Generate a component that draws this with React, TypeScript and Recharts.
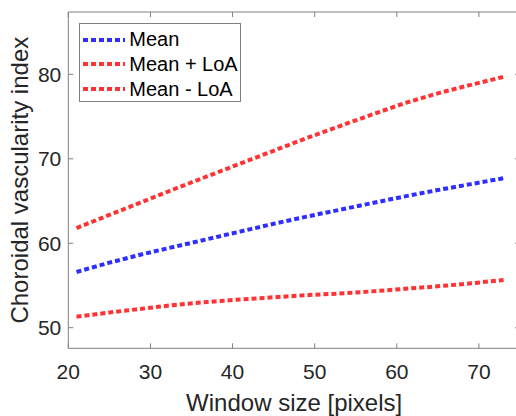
import React from 'react';
import { LineChart, Line, XAxis, YAxis, Legend } from 'recharts';

const windowSizes = [21, 25, 29, 33, 37, 41, 45, 49, 53, 57, 61, 65, 69, 73];
const meanValues = [56.6, 57.7, 58.7, 59.6, 60.5, 61.4, 62.3, 63.15, 63.95, 64.75, 65.55, 66.3, 67.0, 67.7];
const upperValues = [61.8, 63.35, 64.9, 66.45, 67.95, 69.45, 70.95, 72.45, 73.85, 75.25, 76.6, 77.75, 78.75, 79.7];
const lowerValues = [51.3, 51.8, 52.25, 52.7, 53.05, 53.35, 53.6, 53.85, 54.05, 54.3, 54.6, 54.9, 55.25, 55.65];

const xTicks = [20, 30, 40, 50, 60, 70];
const yTicks = [50, 60, 70, 80];

const data = windowSizes.map((w, i) => ({
  w,
  mean: meanValues[i],
  upper: upperValues[i],
  lower: lowerValues[i],
}));

const FONT = '"Liberation Sans", Arial, sans-serif';
const AXIS = '#808080';
const TEXT = '#262626';
const BLUE = '#2e2eff';
const RED = '#ff3333';
const DASH = '5 3';

const W = 521;
const H = 416;
const M = { top: 12, right: 1, left: 0, bottom: 0 };
const X_MARGIN = 16;
const Y_MARGIN = 7;
const TICK = 5;

// matlab style: tick marks point into the box on all four sides
const XTick = (props: any) => {
  const { x, y, payload } = props;
  const axisY = y - X_MARGIN;
  return (
    <g>
      <line x1={x} y1={axisY} x2={x} y2={axisY - TICK} stroke={AXIS} />
      <line x1={x} y1={M.top} x2={x} y2={M.top + TICK} stroke={AXIS} />
      <text x={x} y={y} dy="0.71em" textAnchor="middle" fontSize={21} fontFamily={FONT} fill={TEXT}>
        {payload.value}
      </text>
    </g>
  );
};

const YTick = (props: any) => {
  const { x, y, payload } = props;
  const axisX = x + Y_MARGIN;
  const rightX = W - M.right;
  return (
    <g>
      <line x1={axisX} y1={y} x2={axisX + TICK} y2={y} stroke={AXIS} />
      <line x1={rightX} y1={y} x2={rightX - TICK} y2={y} stroke={AXIS} />
      <text x={x} y={y} dy="0.355em" textAnchor="end" fontSize={21} fontFamily={FONT} fill={TEXT}>
        {payload.value}
      </text>
    </g>
  );
};

const LegendBox = (props: any) => {
  const items = props.payload || [];
  return (
    <div
      style={{
        boxSizing: 'border-box',
        width: 162,
        height: 79,
        border: `1px solid ${AXIS}`,
        background: '#fff',
        paddingTop: 3.5,
        fontFamily: FONT,
      }}
    >
      {items.map((it: any) => (
        <div key={it.value} style={{ display: 'flex', alignItems: 'center', height: 24.8, paddingLeft: 3 }}>
          <svg width={42} height={6}>
            <line x1={0} y1={3} x2={42} y2={3} stroke={it.color} strokeWidth={4} strokeDasharray={DASH} />
          </svg>
          <span style={{ marginLeft: 4, fontSize: 20, color: '#000', lineHeight: '24.8px' }}>{it.value}</span>
        </div>
      ))}
    </div>
  );
};

const yTitle = (props: any) => {
  const vb = props.viewBox;
  const cx = vb.x + 19.5;
  const cy = vb.y + vb.height / 2;
  return (
    <text
      x={cx}
      y={cy}
      transform={`rotate(-90 ${cx} ${cy})`}
      textAnchor="middle"
      dy="0.355em"
      fontSize={24}
      fontFamily={FONT}
      fill={TEXT}
    >
      Choroidal vascularity index
    </text>
  );
};

const xTitle = (props: any) => {
  const vb = props.viewBox;
  return (
    <text x={vb.x + vb.width / 2} y={vb.y + 62.7} textAnchor="middle" fontSize={24} fontFamily={FONT} fill={TEXT}>
      Window size [pixels]
    </text>
  );
};

export default function App() {
  return (
    <div style={{ width: 516, height: 416, overflow: 'hidden', position: 'relative' }}>
      <style>{'html, body { margin: 0; padding: 0; overflow: hidden; }'}</style>
      <LineChart width={W} height={H} data={data} margin={M}>
        <XAxis
          xAxisId="x"
          dataKey="w"
          type="number"
          domain={[20, 75]}
          ticks={xTicks}
          allowDataOverflow
          height={67.7}
          tickSize={0}
          tickMargin={X_MARGIN}
          tickLine={false}
          axisLine={{ stroke: AXIS }}
          tick={<XTick />}
          label={{ content: xTitle }}
        />
        <XAxis
          xAxisId="xt"
          orientation="top"
          dataKey="w"
          type="number"
          domain={[20, 75]}
          ticks={xTicks}
          allowDataOverflow
          mirror
          tick={false}
          tickLine={false}
          axisLine={{ stroke: AXIS }}
        />
        <YAxis
          yAxisId="y"
          type="number"
          domain={[47.56, 87.38]}
          ticks={yTicks}
          allowDataOverflow
          width={68.3}
          tickSize={0}
          tickMargin={Y_MARGIN}
          tickLine={false}
          axisLine={{ stroke: AXIS }}
          tick={<YTick />}
          label={{ content: yTitle }}
        />
        <Legend
          layout="vertical"
          align="center"
          verticalAlign="middle"
          content={<LegendBox />}
          wrapperStyle={{ left: 79.3, top: 22.7, width: 'auto', height: 'auto' }}
        />
        <Line
          xAxisId="x"
          yAxisId="y"
          type="linear"
          dataKey="mean"
          name="Mean"
          stroke={BLUE}
          strokeWidth={4}
          strokeDasharray={DASH}
          dot={false}
          isAnimationActive={false}
        />
        <Line
          xAxisId="x"
          yAxisId="y"
          type="linear"
          dataKey="upper"
          name="Mean + LoA"
          stroke={RED}
          strokeWidth={4}
          strokeDasharray={DASH}
          dot={false}
          isAnimationActive={false}
        />
        <Line
          xAxisId="x"
          yAxisId="y"
          type="linear"
          dataKey="lower"
          name="Mean - LoA"
          stroke={RED}
          strokeWidth={4}
          strokeDasharray={DASH}
          dot={false}
          isAnimationActive={false}
        />
      </LineChart>
    </div>
  );
}
